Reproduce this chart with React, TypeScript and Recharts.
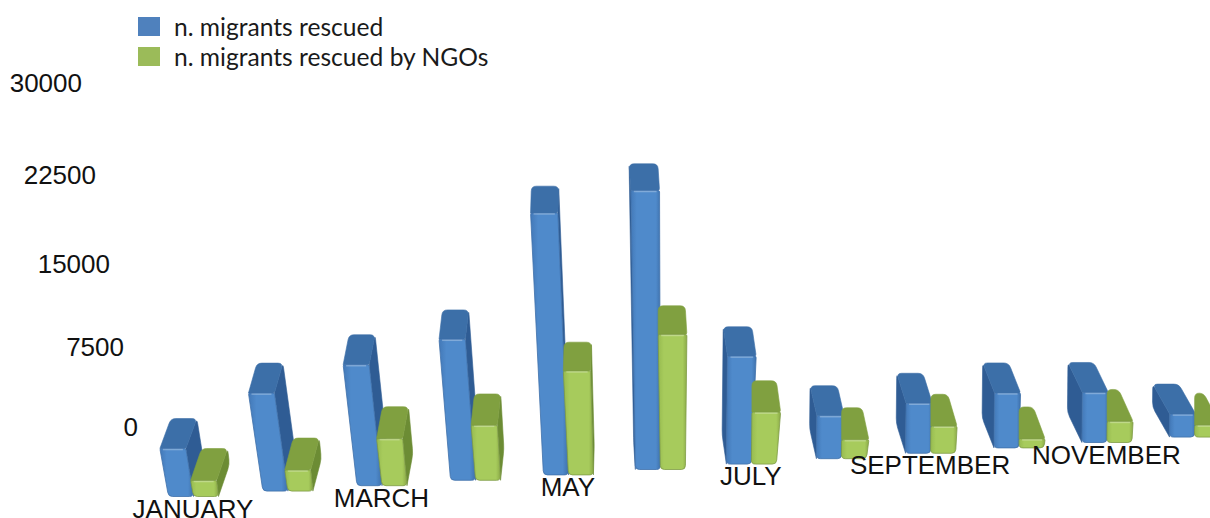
import React from "react";
import { BarChart, Bar, XAxis, YAxis, Legend } from "recharts";

const months = ["JANUARY","FEBRUARY","MARCH","APRIL","MAY","JUNE","JULY","AUGUST","SEPTEMBER","OCTOBER","NOVEMBER","DECEMBER"];
const rescued = [4170, 8520, 10520, 12260, 22780, 24260, 9390, 3740, 4350, 4780, 4350, 2000];
const rescuedByNgos = [1390, 1830, 4090, 4780, 9040, 11740, 4520, 1650, 2350, 780, 1830, 1040];
const yTicks = [0, 7500, 15000, 22500, 30000];
const data = months.map((month, i) => ({ month, rescued: rescued[i], ngos: rescuedByNgos[i] }));

const FONT = "'Liberation Sans', Arial, sans-serif";
const PLOT_TOP = 151.5;
const PLOT_H = 345;
const LAST = months.length - 1;

// Perspective of the floor: each category is moved along a receding floor line.
const view = (i: number) => {
  const t = i / LAST;
  return {
    dx: 12 * Math.sin(Math.PI * t),
    dy: -5.4 * i,
    lean: Math.min(-0.18 + 0.36 * t, 0.01),
    depthX: 11 - 28 * t,
    depthY: -30 + 4 * Math.exp(-(((t - 0.41) / 0.1) ** 2)),
    flare: 1 + 3 * Math.exp(-(((t - 0.5) / 0.15) ** 2)),
  };
};

// Closed path through the points, softening each corner by its own radius.
const rounded = (p: number[][], radii: number[]) => {
  const n = p.length;
  let d = "";
  for (let i = 0; i < n; i++) {
    const c = p[i];
    const a = p[(i + n - 1) % n];
    const b = p[(i + 1) % n];
    const la = Math.hypot(a[0] - c[0], a[1] - c[1]) || 1;
    const lb = Math.hypot(b[0] - c[0], b[1] - c[1]) || 1;
    const ra = Math.min(radii[i], la / 2);
    const rb = Math.min(radii[i], lb / 2);
    const s = [c[0] + ((a[0] - c[0]) * ra) / la, c[1] + ((a[1] - c[1]) * ra) / la];
    const e = [c[0] + ((b[0] - c[0]) * rb) / lb, c[1] + ((b[1] - c[1]) * rb) / lb];
    d += `${i === 0 ? "M" : "L"}${s[0]},${s[1]} Q${c[0]},${c[1]} ${e[0]},${e[1]} `;
  }
  return d + "Z";
};

const makeBar = (front: string, top: string, side: string, edge: string, isBack: boolean) => (props: any) => {
  const { x, y, width, height, index } = props;
  const v = view(index);
  const depthY = isBack ? v.depthY : v.depthY - 2;
  const bl = [x + v.dx, y + height + v.dy];
  const br = [bl[0] + width, bl[1]];
  const tl = [bl[0] + v.lean * height, y + v.dy];
  const tr = [tl[0] + width + v.flare, tl[1]];
  const back = (p: number[]) => [p[0] + v.depthX, p[1] + depthY];
  const tlBack = back(tl);
  if (!isBack && v.depthX < 0) tlBack[0] = tl[0];
  const sidePoly =
    v.depthX >= 0
      ? [tr, back(tr), back(br), br]
      : isBack
      ? [tl, back(tl), back(bl), bl]
      : null;
  return (
    <g>
      {sidePoly && <path d={rounded(sidePoly, [0, 5, 5, 0])} fill={side} stroke={side} strokeWidth={0.6} />}
      <path d={rounded([tl, tr, back(tr), tlBack], [0, 2, 5, 5])} fill={top} stroke={top} strokeWidth={0.6} />
      <path d={rounded([tl, tr, br, bl], [1.5, 1.5, 4, 4])} fill={front} stroke={edge} strokeWidth={0.8} />
      <line x1={tl[0] + 3} y1={tl[1] + 1} x2={tr[0] - 3} y2={tr[1] + 1} stroke="#ffffff" strokeOpacity={0.28} strokeWidth={1.5} />
    </g>
  );
};

const BlueBar = makeBar("url(#blueFront)", "#3c6fa8", "#2f5c94", "#3f70aa", true);
const GreenBar = makeBar("url(#greenFront)", "#80a040", "#6c8c34", "#7f9c46", false);

const YTick = (props: any) => {
  const { y, payload } = props;
  const f = (PLOT_TOP + PLOT_H - y) / PLOT_H;
  const tx = 138 - 56 * f;
  const ty = 427 - 310 * f - 34 * f * f;
  return (
    <text x={tx} y={ty} textAnchor="end" dominantBaseline="central" fontFamily={FONT} fontSize={26} fill="#111">
      {payload.value}
    </text>
  );
};

const XTick = (props: any) => {
  const { x, y, payload } = props;
  const v = view(payload.index);
  return (
    <text x={x + v.dx} y={y + v.dy + 4} textAnchor="middle" dominantBaseline="central" fontFamily={FONT} fontSize={26} fill="#111">
      {payload.value}
    </text>
  );
};

const LegendBox = ({ payload }: any) => (
  <div>
    {(payload || []).map((e: any) => (
      <div key={e.value} style={{ display: "flex", alignItems: "center", height: 30 }}>
        <span style={{ width: 22, height: 19, background: e.color, display: "inline-block", marginRight: 14 }} />
        <span style={{ fontFamily: "Lato, sans-serif", fontSize: 24.6, color: "#1a1a1a", whiteSpace: "nowrap" }}>{e.value}</span>
      </div>
    ))}
  </div>
);

export default function App() {
  return (
    <div style={{ position: "absolute", left: 0, top: 0, width: 1210, height: 518, overflow: "hidden", background: "#fff" }}>
      <BarChart
        width={1240}
        height={518}
        data={data}
        margin={{ top: PLOT_TOP, right: 0.5, bottom: 20.5, left: 0 }}
        barSize={25}
        barGap={0}
        barCategoryGap={20}
      >
        <defs>
          <linearGradient id="blueFront" x1="0" y1="0" x2="1" y2="0">
            <stop offset="0" stopColor="#4379b8" />
            <stop offset="0.2" stopColor="#4f8acb" />
            <stop offset="0.85" stopColor="#4f8acb" />
            <stop offset="1" stopColor="#3f72ad" />
          </linearGradient>
          <linearGradient id="greenFront" x1="0" y1="0" x2="1" y2="0">
            <stop offset="0" stopColor="#97bb50" />
            <stop offset="0.2" stopColor="#a7cb5c" />
            <stop offset="0.85" stopColor="#a7cb5c" />
            <stop offset="1" stopColor="#8cab48" />
          </linearGradient>
        </defs>
        <XAxis dataKey="month" height={1} axisLine={false} tickLine={false} interval={1} tick={<XTick />} />
        <YAxis width={147.5} domain={[0, 30000]} ticks={yTicks} interval={0} axisLine={false} tickLine={false} tick={<YTick />} />
        <Legend
          layout="horizontal"
          verticalAlign="middle"
          align="center"
          content={<LegendBox />}
          wrapperStyle={{ left: 138, top: 11, width: 420, height: 60 }}
        />
        <Bar dataKey="rescued" name="n. migrants rescued" fill="#4f81bd" shape={BlueBar} isAnimationActive={false} />
        <Bar dataKey="ngos" name="n. migrants rescued by NGOs" fill="#9bbb59" shape={GreenBar} isAnimationActive={false} />
      </BarChart>
    </div>
  );
}
